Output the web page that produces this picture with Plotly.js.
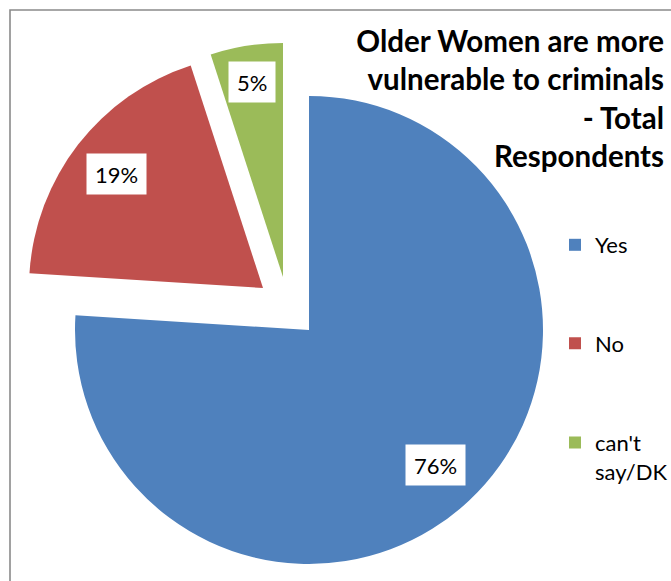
<!DOCTYPE html>
<html><head><meta charset="utf-8">
<script src="https://cdn.plot.ly/plotly-3.0.1.min.js"></script>
<style>html,body{margin:0;padding:0;overflow:hidden;background:#fff}</style>
</head><body><div id="chart" style="width:671px;height:581px"></div>
<script>
// ---- data ----
const categories = ["Yes", "No", "can't say/DK"];
const legendLabels = ["Yes", "No", "can't<br>say/DK"];
const values = [76, 19, 5];
const colors = ["#4F81BD", "#C0504D", "#9BBB59"];
const chartTitle = "Older Women are more<br>vulnerable to criminals<br>- Total<br>Respondents";

// ---- layout constants (px) ----
const W = 671, H = 581;
const CX = 309, CY = 330, R = 234;
const explodeOffset = [[0, 0], [-46, -42], [-26, -53]];
const labelRadiusFrac = [0.79, 0.795, 0.845];
const legendFont = 22;
const legendLeft = 555;
const legendSymbolY = [245, 343.5, 443];

const total = values.reduce((a, b) => a + b, 0);
const fx = px => px / W;
const fy = py => 1 - py / H;

const traces = [];
// geometry traces: one per (possibly exploded) slice
categories.forEach((c, i) => {
  const cx = CX + explodeOffset[i][0], cy = CY + explodeOffset[i][1];
  traces.push({
    type: 'pie', labels: categories, values: values, sort: false,
    direction: 'clockwise', rotation: 0,
    marker: { colors: colors.map((col, j) => j === i ? col : 'rgba(0,0,0,0)'), line: { width: 0 } },
    textinfo: 'none', hoverinfo: 'label+percent', showlegend: false,
    domain: { x: [fx(cx - R), fx(cx + R)], y: [fy(cy + R), fy(cy - R)] }
  });
});
// legend traces (vanishingly small pies, only used for the legend entries)
const tiny = 0.00005;
categories.forEach((c, i) => {
  traces.push({
    type: 'pie', labels: [legendLabels[i]], values: [values[i]], sort: false,
    marker: { colors: [colors[i]], line: { width: 0 } },
    textinfo: 'none', hoverinfo: 'skip', showlegend: true,
    legend: i === 0 ? 'legend' : 'legend' + (i + 1),
    domain: { x: [fx(CX), fx(CX) + tiny], y: [fy(CY + 100), fy(CY + 100) + tiny] }
  });
});

// data labels
const annotations = [];
let cum = 0;
values.forEach((v, i) => {
  const th = (cum + v / 2) / total * 2 * Math.PI;
  cum += v;
  const px = CX + explodeOffset[i][0] + labelRadiusFrac[i] * R * Math.sin(th);
  const py = CY + explodeOffset[i][1] - labelRadiusFrac[i] * R * Math.cos(th);
  annotations.push({
    x: fx(px), y: fy(py), xref: 'paper', yref: 'paper', showarrow: false,
    text: Math.round(v / total * 100) + '%',
    font: { family: 'Lato', size: 22, color: '#000' },
    bgcolor: '#fff', borderpad: 8, height: 24, xanchor: 'center', yanchor: 'middle'
  });
});

const lh = legendFont * 1.3;
function legendCfg(i) {
  const lines = legendLabels[i].split('<br>').length;
  const centerY = legendSymbolY[i] + 0.5 * lh * (lines - 1);
  return {
    x: fx(legendLeft), xanchor: 'left', y: fy(centerY), yanchor: 'middle',
    font: { family: 'Lato', size: legendFont, color: '#000' },
    bgcolor: 'rgba(0,0,0,0)', borderwidth: 0, valign: 'top', itemclick: false, itemdoubleclick: false
  };
}

const layout = {
  width: W, height: H,
  margin: { l: 0, r: 0, t: 0, b: 0, pad: 0, autoexpand: false },
  paper_bgcolor: '#fff', plot_bgcolor: '#fff',
  title: {
    text: chartTitle, font: { family: 'Lato', size: 29.5, color: '#000', weight: 'bold' },
    x: fx(664), xref: 'container', xanchor: 'right',
    y: fy(52), yref: 'container', yanchor: 'top'
  },
  legend: legendCfg(0), legend2: legendCfg(1), legend3: legendCfg(2),
  annotations: annotations,
  shapes: [{
    type: 'rect', xref: 'paper', yref: 'paper', layer: 'below',
    x0: fx(10), y0: -0.05, x1: 1.05, y1: fy(10),
    line: { color: '#8a8a8a', width: 1.6 }, fillcolor: 'rgba(0,0,0,0)'
  }]
};

Plotly.newPlot('chart', traces, layout, { displayModeBar: false });
</script></body></html>
